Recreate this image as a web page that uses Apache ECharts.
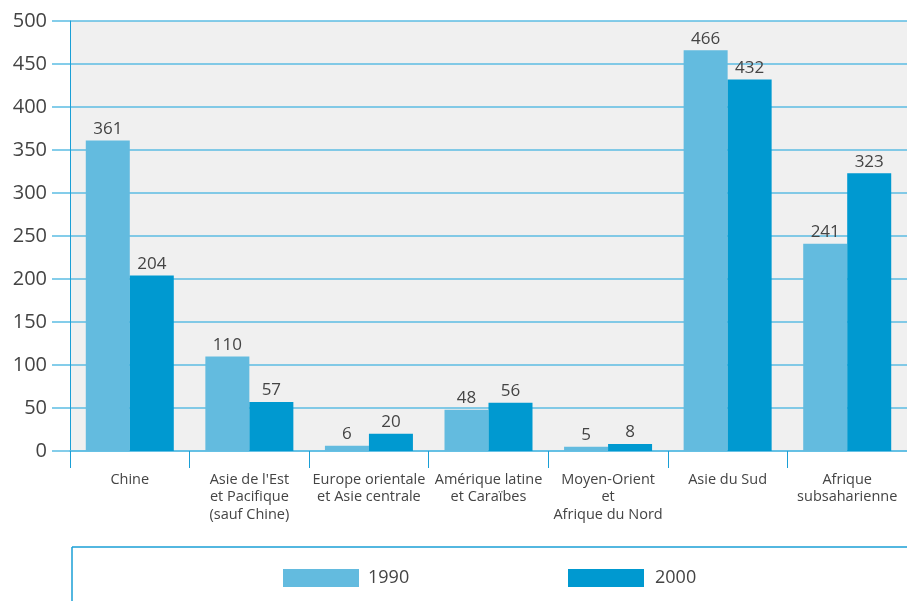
<!DOCTYPE html>
<html>
<head>
<meta charset="utf-8">
<script src="https://cdn.jsdelivr.net/npm/echarts@6/dist/echarts.min.js"></script>
<style>
  html, body { margin: 0; padding: 0; background: #fff; }
  #chart { width: 907px; height: 601px; }
</style>
</head>
<body>
<div id="chart"></div>
<script>
// données
var categories = ['Chine', "Asie de l'Est\net Pacifique\n(sauf Chine)", 'Europe orientale\net Asie centrale',
  'Amérique latine\net Caraïbes', 'Moyen-Orient\net\nAfrique du Nord', 'Asie du Sud', 'Afrique\nsubsaharienne'];
var values1990 = [361, 110, 6, 48, 5, 466, 241];
var values2000 = [204, 57, 20, 56, 8, 432, 323];
var yTicks = [0, 50, 100, 150, 200, 250, 300, 350, 400, 450, 500];

var font = "'Open Sans', 'DejaVu Sans', sans-serif";
var gridBlue = '#5cbde3';
var axisBlue = '#1a9fd6';

var chart = echarts.init(document.getElementById('chart'));

var option = {
  animation: false,
  textStyle: { fontFamily: font, color: '#444' },
  grid: {
    left: 70, right: 0, top: 21, bottom: 150,
    show: true, backgroundColor: '#f0f0f0', borderWidth: 0
  },
  legend: [
    {
      data: ['1990'], left: 283, top: 569, padding: 0,
      itemWidth: 76, itemHeight: 18, itemGap: 0,
      icon: 'rect',
      textStyle: { fontSize: 18, color: '#444', fontFamily: font, padding: [0, 0, 0, 4] }
    },
    {
      data: ['2000'], left: 568, top: 569, padding: 0,
      itemWidth: 76, itemHeight: 18, itemGap: 0,
      icon: 'rect',
      textStyle: { fontSize: 18, color: '#444', fontFamily: font, padding: [0, 0, 0, 6] }
    }
  ],
  xAxis: {
    type: 'category',
    data: categories,
    axisLine: { show: true, lineStyle: { color: gridBlue, width: 1.5 } },
    axisTick: { show: true, interval: 0, length: 17, lineStyle: { color: axisBlue, width: 1 } },
    axisLabel: { interval: 0, margin: 20, fontSize: 14.5, lineHeight: 17.5, color: '#444', fontFamily: font }
  },
  yAxis: {
    type: 'value',
    min: yTicks[0],
    max: yTicks[yTicks.length - 1],
    interval: 50,
    axisLine: { show: true, lineStyle: { color: axisBlue, width: 1 } },
    axisTick: { show: true, length: 18, lineStyle: { color: gridBlue, width: 1.5 } },
    splitLine: { show: true, lineStyle: { color: gridBlue, width: 1.5 } },
    axisLabel: { margin: 23, fontSize: 20, color: '#444', fontFamily: font }
  },
  series: [
    {
      name: '1990', type: 'bar', data: values1990,
      barGap: 0, barWidth: 44,
      itemStyle: { color: '#63bbdf' },
      label: { show: true, position: 'top', distance: 3, fontSize: 17, color: '#444', fontFamily: font }
    },
    {
      name: '2000', type: 'bar', data: values2000,
      barGap: 0, barWidth: 44,
      itemStyle: { color: '#0099d0' },
      label: { show: true, position: 'top', distance: 3, fontSize: 17, color: '#444', fontFamily: font }
    }
  ],
  graphic: [
    { type: 'line', shape: { x1: 72, y1: 547, x2: 907, y2: 547 }, style: { stroke: axisBlue, lineWidth: 1.5 } },
    { type: 'line', shape: { x1: 72, y1: 547, x2: 72, y2: 601 }, style: { stroke: axisBlue, lineWidth: 1.5 } }
  ]
};

chart.setOption(option);
</script>
</body>
</html>
